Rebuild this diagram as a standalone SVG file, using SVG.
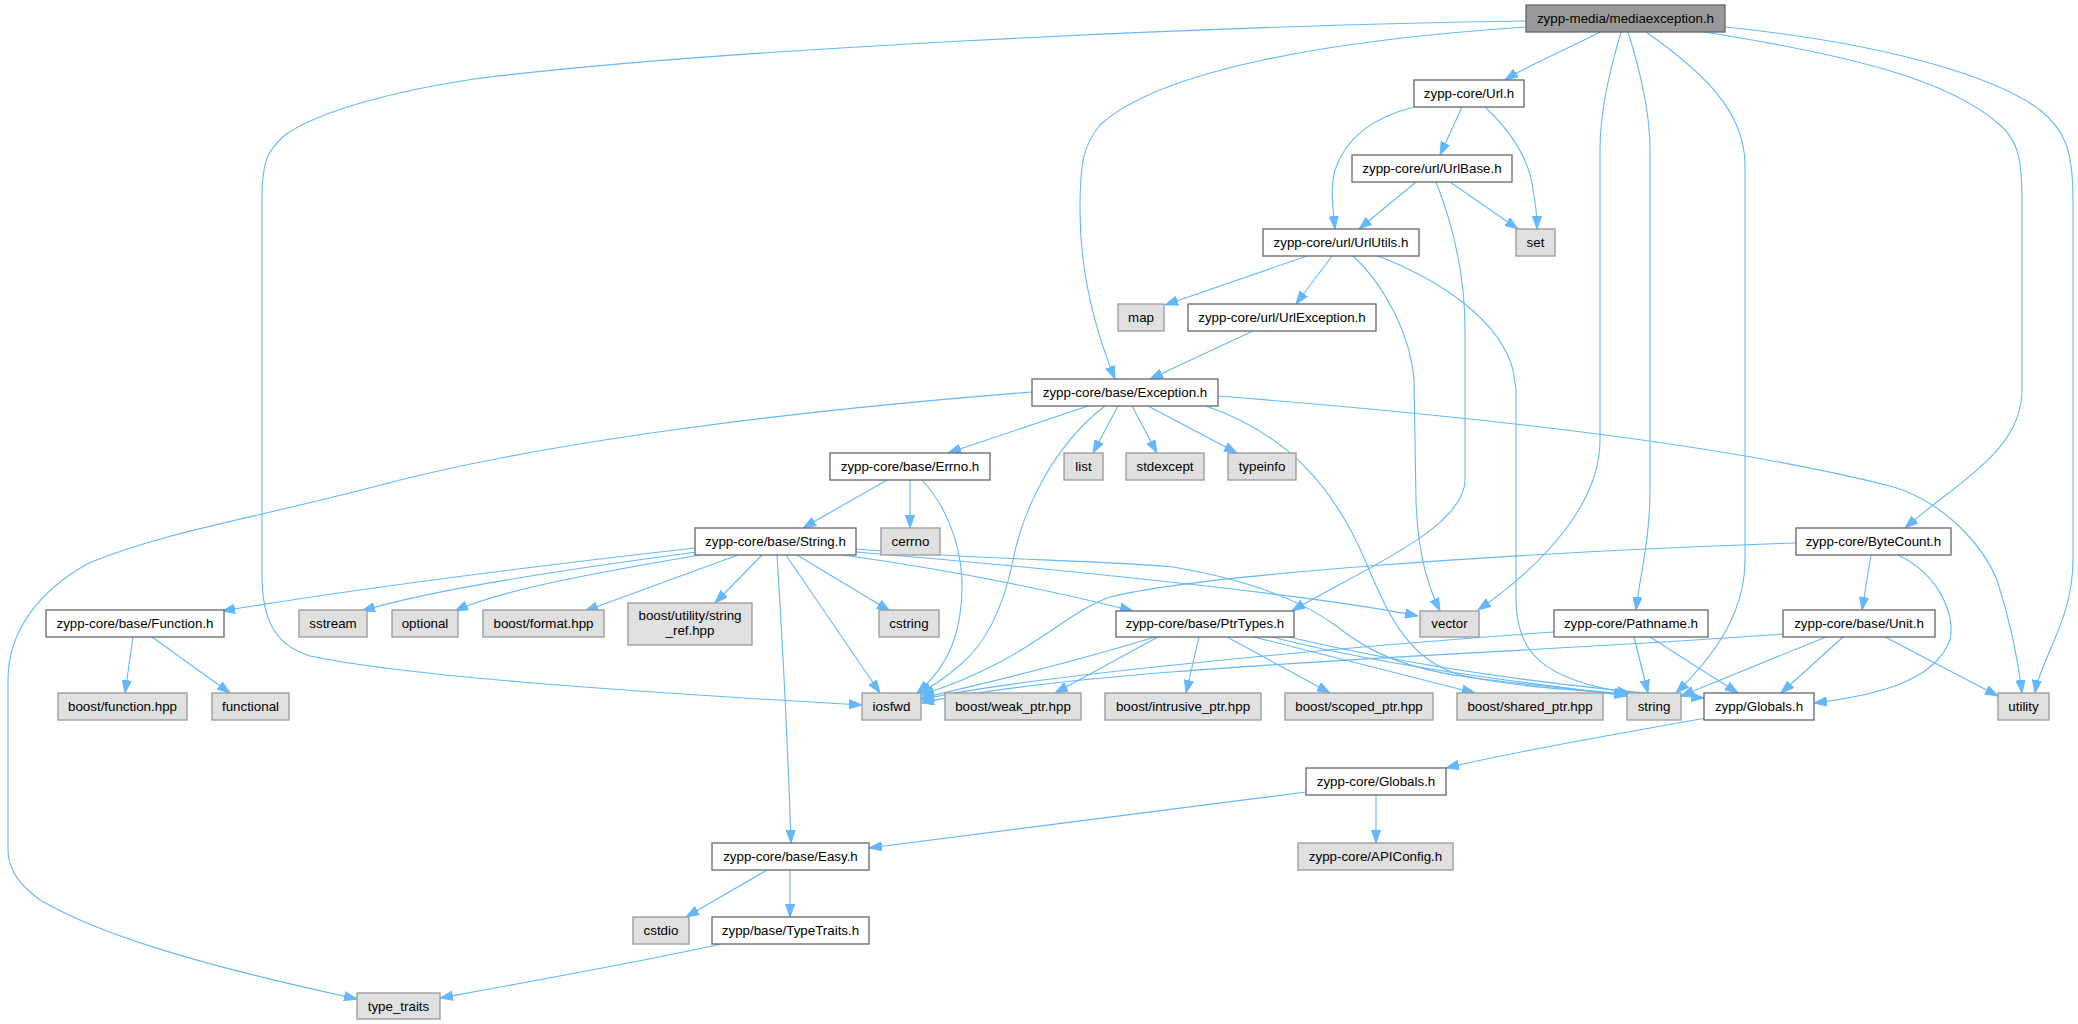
<svg xmlns="http://www.w3.org/2000/svg" width="2078" height="1024" viewBox="0 0 2078 1024">
<style>
.n rect{fill:#ffffff;stroke:#666666;stroke-width:1.3}
.g rect{fill:#e0e0e0;stroke:#999999;stroke-width:1.3}
.r rect{fill:#999999;stroke:#666666;stroke-width:1.3}
text{font-family:"Liberation Sans",Arial,Helvetica,sans-serif;font-size:13.33px;fill:#000000;text-anchor:middle}
#edges path{fill:none;stroke:#63b8ff;stroke-width:1.1;marker-end:url(#arr)}
</style>
<defs>
<marker id="arr" viewBox="0 0 13 10" refX="13" refY="5" markerWidth="13" markerHeight="10" orient="auto" markerUnits="userSpaceOnUse">
<path d="M0,0.4 L13,5 L0,9.6 Z" fill="#63b8ff" stroke="#63b8ff" stroke-width="1"/>
</marker>
</defs>
<rect x="0" y="0" width="2078" height="1024" fill="#ffffff"/>
<g id="edges">
<path d="M1600,32 C1570,48 1530,64 1505,80"/>
<path d="M1526,27 C1330,40 1160,70 1100,125 C1083,145 1080,165 1080,210 C1080,270 1095,330 1115,379"/>
<path d="M1526,21 C1200,26 700,50 474,79 C400,90 320,110 285,135 C268,150 262,160 262,200 L262,575 C262,620 275,645 310,656 C400,675 600,690 862,705"/>
<path d="M1621,32 C1610,70 1600,110 1600,150 L1600,440 C1600,500 1550,560 1478,610"/>
<path d="M1628,32 C1640,70 1650,110 1650,150 L1650,490 C1650,540 1640,575 1636,610"/>
<path d="M1646,32 C1700,70 1745,110 1745,165 L1745,560 C1745,620 1705,665 1676,693"/>
<path d="M1704,32 C1850,55 1950,80 2000,125 C2018,140 2022,160 2022,200 L2022,390 C2022,450 1960,480 1905,528"/>
<path d="M1725,27 C1900,45 2000,80 2040,110 C2065,130 2073,150 2073,200 L2073,560 C2073,620 2040,660 2035,693"/>
<path d="M1414,107 C1370,118 1345,140 1335,170 C1330,190 1333,210 1335,229"/>
<path d="M1462,107 L1440,155"/>
<path d="M1485,107 C1510,130 1530,160 1533,190 C1536,205 1537,215 1537,229"/>
<path d="M1416,182 L1359,229"/>
<path d="M1450,182 L1518,229"/>
<path d="M1436,182 C1455,230 1465,280 1465,330 L1465,480 C1465,530 1350,575 1292,611"/>
<path d="M1307,256 L1165,305"/>
<path d="M1332,256 L1296,304"/>
<path d="M1353,256 C1380,280 1410,330 1414,380 L1416,500 C1418,560 1430,590 1440,611"/>
<path d="M1378,256 C1440,280 1500,320 1513,370 L1516,390 L1516,600 C1516,650 1540,680 1630,693"/>
<path d="M1253,331 L1150,379"/>
<path d="M1088,406 L948,453"/>
<path d="M1118,406 L1093,453"/>
<path d="M1132,406 L1157,453"/>
<path d="M1148,406 L1237,453"/>
<path d="M1105,406 C1060,440 1025,500 1013,560 C1005,600 990,640 960,665 C945,678 930,688 918,693"/>
<path d="M1206,406 C1290,435 1335,490 1365,560 C1390,620 1410,660 1460,675 C1520,688 1580,690 1628,694"/>
<path d="M1218,396 C1500,418 1743,448 1894,487 C1950,505 1985,550 1997,580 C2010,620 2018,660 2022,693"/>
<path d="M1032,392 C800,410 560,440 400,480 C250,520 170,530 89,563 C40,590 8,630 8,680 L8,850 C8,870 20,885 40,900 C100,935 200,965 357,999"/>
<path d="M887,480 L803,528"/>
<path d="M910,480 L910,528"/>
<path d="M922,480 C945,505 960,540 962,580 C963,630 950,665 917,693"/>
<path d="M695,548 C500,570 350,590 222,611"/>
<path d="M697,552 C560,570 430,590 362,611"/>
<path d="M700,555 C600,572 500,590 455,611"/>
<path d="M738,555 L585,611"/>
<path d="M762,555 L715,603"/>
<path d="M777,555 C783,650 788,750 791,843"/>
<path d="M786,555 L880,693"/>
<path d="M797,555 L890,611"/>
<path d="M856,552 C1000,564 1300,592 1418,616"/>
<path d="M843,555 C950,570 1050,590 1133,611"/>
<path d="M856,549 C980,560 1100,560 1173,567 C1250,580 1300,600 1335,625 C1360,645 1390,665 1460,676 C1530,686 1590,690 1628,695"/>
<path d="M133,637 L125,693"/>
<path d="M152,637 L230,693"/>
<path d="M1155,637 C1080,660 1000,680 921,698"/>
<path d="M1158,637 L1055,693"/>
<path d="M1199,637 L1186,693"/>
<path d="M1227,637 L1330,693"/>
<path d="M1254,637 L1475,693"/>
<path d="M1272,637 C1400,670 1550,685 1627,696"/>
<path d="M1289,637 C1450,675 1600,690 1704,698"/>
<path d="M1554,632 C1300,650 1000,680 921,700"/>
<path d="M1634,637 L1648,693"/>
<path d="M1650,637 L1738,693"/>
<path d="M1796,543 C1500,553 1200,575 1110,597 C1060,615 1030,660 921,695"/>
<path d="M1871,555 L1862,610"/>
<path d="M1898,555 C1940,575 1955,615 1950,640 C1935,680 1880,695 1814,703"/>
<path d="M1783,634 C1500,655 1100,665 921,703"/>
<path d="M1826,637 L1681,696"/>
<path d="M1843,637 L1781,693"/>
<path d="M1885,637 L1998,696"/>
<path d="M1706,718 C1640,730 1520,750 1446,768"/>
<path d="M1306,792 L869,848"/>
<path d="M1376,795 L1376,843"/>
<path d="M767,870 L686,917"/>
<path d="M790,870 L790,917"/>
<path d="M721,944 C650,960 550,978 440,998"/>
</g>
<g id="node_root" class="r"><rect x="1526" y="5" width="199" height="27"/><text x="1625.5" y="23">zypp-media/mediaexception.h</text></g>
<g id="node_url" class="n"><rect x="1414" y="80" width="110" height="27"/><text x="1469" y="98">zypp-core/Url.h</text></g>
<g id="node_urlbase" class="n"><rect x="1352" y="155" width="160" height="27"/><text x="1432" y="173">zypp-core/url/UrlBase.h</text></g>
<g id="node_set" class="g"><rect x="1516" y="229" width="39" height="27"/><text x="1535.5" y="247">set</text></g>
<g id="node_urlutils" class="n"><rect x="1263" y="229" width="156" height="27"/><text x="1341" y="247">zypp-core/url/UrlUtils.h</text></g>
<g id="node_map" class="g"><rect x="1118" y="304" width="46" height="27"/><text x="1141" y="322">map</text></g>
<g id="node_urlexception" class="n"><rect x="1188" y="304" width="188" height="27"/><text x="1282" y="322">zypp-core/url/UrlException.h</text></g>
<g id="node_exception" class="n"><rect x="1032" y="379" width="186" height="27"/><text x="1125" y="397">zypp-core/base/Exception.h</text></g>
<g id="node_errno" class="n"><rect x="830" y="453" width="160" height="27"/><text x="910" y="471">zypp-core/base/Errno.h</text></g>
<g id="node_list" class="g"><rect x="1064" y="453" width="39" height="27"/><text x="1083.5" y="471">list</text></g>
<g id="node_stdexcept" class="g"><rect x="1126" y="453" width="78" height="27"/><text x="1165" y="471">stdexcept</text></g>
<g id="node_typeinfo" class="g"><rect x="1228" y="453" width="68" height="27"/><text x="1262" y="471">typeinfo</text></g>
<g id="node_stringh" class="n"><rect x="695" y="528" width="161" height="27"/><text x="775.5" y="546">zypp-core/base/String.h</text></g>
<g id="node_cerrno" class="g"><rect x="881" y="528" width="59" height="27"/><text x="910.5" y="546">cerrno</text></g>
<g id="node_bytecount" class="n"><rect x="1796" y="528" width="155" height="27"/><text x="1873.5" y="546">zypp-core/ByteCount.h</text></g>
<g id="node_function" class="n"><rect x="46" y="610" width="178" height="27"/><text x="135" y="628">zypp-core/base/Function.h</text></g>
<g id="node_sstream" class="g"><rect x="299" y="610" width="68" height="27"/><text x="333" y="628">sstream</text></g>
<g id="node_optional" class="g"><rect x="392" y="610" width="66" height="27"/><text x="425" y="628">optional</text></g>
<g id="node_format" class="g"><rect x="483" y="610" width="121" height="27"/><text x="543.5" y="628">boost/format.hpp</text></g>
<g id="node_stringref" class="g"><rect x="628" y="603" width="124" height="42"/><text x="690" y="620">boost/utility/string</text><text x="690" y="635">_ref.hpp</text></g>
<g id="node_cstring" class="g"><rect x="879" y="610" width="60" height="27"/><text x="909" y="628">cstring</text></g>
<g id="node_ptrtypes" class="n"><rect x="1116" y="611" width="178" height="26"/><text x="1205" y="628">zypp-core/base/PtrTypes.h</text></g>
<g id="node_vector" class="g"><rect x="1420" y="611" width="59" height="26"/><text x="1449.5" y="628">vector</text></g>
<g id="node_pathname" class="n"><rect x="1554" y="610" width="154" height="27"/><text x="1631" y="628">zypp-core/Pathname.h</text></g>
<g id="node_unit" class="n"><rect x="1783" y="610" width="152" height="27"/><text x="1859" y="628">zypp-core/base/Unit.h</text></g>
<g id="node_boostfunction" class="g"><rect x="58" y="693" width="129" height="27"/><text x="122.5" y="711">boost/function.hpp</text></g>
<g id="node_functional" class="g"><rect x="212" y="693" width="77" height="27"/><text x="250.5" y="711">functional</text></g>
<g id="node_iosfwd" class="g"><rect x="862" y="693" width="59" height="27"/><text x="891.5" y="711">iosfwd</text></g>
<g id="node_weakptr" class="g"><rect x="945" y="693" width="136" height="27"/><text x="1013" y="711">boost/weak_ptr.hpp</text></g>
<g id="node_intrusiveptr" class="g"><rect x="1105" y="693" width="156" height="27"/><text x="1183" y="711">boost/intrusive_ptr.hpp</text></g>
<g id="node_scopedptr" class="g"><rect x="1285" y="693" width="148" height="27"/><text x="1359" y="711">boost/scoped_ptr.hpp</text></g>
<g id="node_sharedptr" class="g"><rect x="1457" y="693" width="146" height="27"/><text x="1530" y="711">boost/shared_ptr.hpp</text></g>
<g id="node_string" class="g"><rect x="1627" y="693" width="54" height="27"/><text x="1654" y="711">string</text></g>
<g id="node_zyppglobals" class="n"><rect x="1704" y="693" width="110" height="27"/><text x="1759" y="711">zypp/Globals.h</text></g>
<g id="node_utility" class="g"><rect x="1998" y="693" width="51" height="27"/><text x="2023.5" y="711">utility</text></g>
<g id="node_coreglobals" class="n"><rect x="1306" y="768" width="140" height="27"/><text x="1376" y="786">zypp-core/Globals.h</text></g>
<g id="node_easy" class="n"><rect x="712" y="843" width="157" height="27"/><text x="790.5" y="861">zypp-core/base/Easy.h</text></g>
<g id="node_apiconfig" class="g"><rect x="1298" y="843" width="155" height="27"/><text x="1375.5" y="861">zypp-core/APIConfig.h</text></g>
<g id="node_cstdio" class="g"><rect x="633" y="917" width="56" height="27"/><text x="661" y="935">cstdio</text></g>
<g id="node_typetraitsh" class="n"><rect x="712" y="917" width="157" height="27"/><text x="790.5" y="935">zypp/base/TypeTraits.h</text></g>
<g id="node_type_traits" class="g"><rect x="357" y="993" width="83" height="26"/><text x="398.5" y="1011">type_traits</text></g>
</svg>
